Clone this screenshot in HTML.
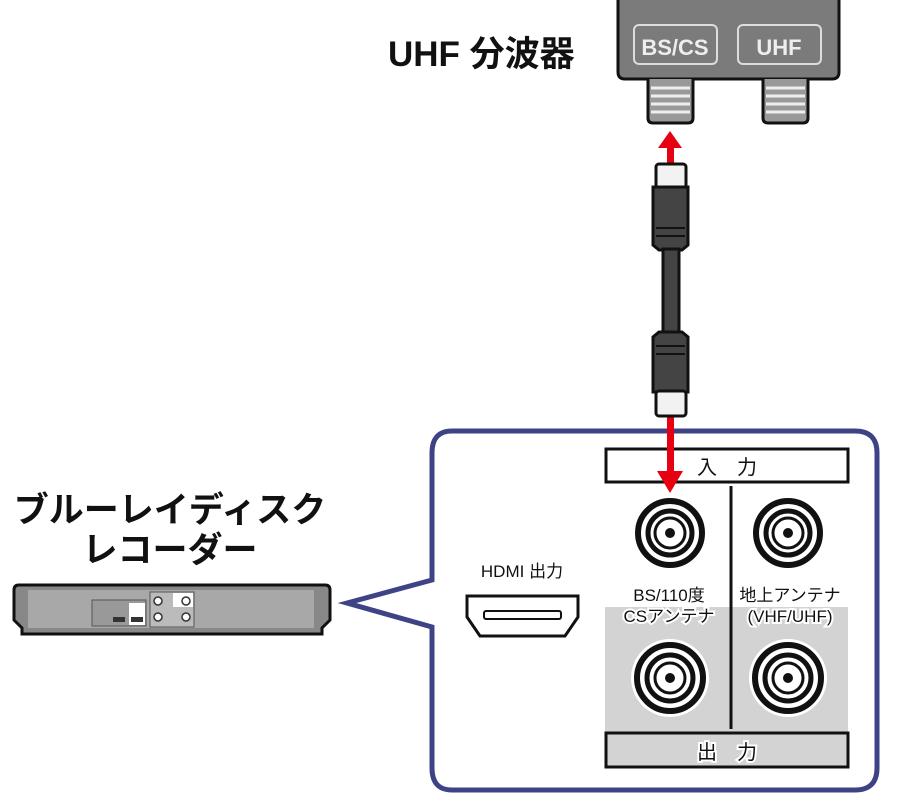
<!DOCTYPE html>
<html><head><meta charset="utf-8"><style>
html,body{margin:0;padding:0;background:#fff;width:900px;height:805px;overflow:hidden}
text{font-family:"Liberation Sans","Noto Sans CJK JP",sans-serif}
</style></head><body>
<svg width="900" height="805" viewBox="0 0 900 805" xmlns="http://www.w3.org/2000/svg">
<!-- splitter -->
<path d="M618,-5 L618,72 Q618,79 625,79 L832,79 Q839,79 839,72 L839,-5 Z" fill="#7b7b7b" stroke="#111" stroke-width="3"/>
<rect x="634" y="25" width="83" height="39" rx="5" fill="none" stroke="#ddd" stroke-width="2"/>
<rect x="738" y="25" width="83" height="39" rx="5" fill="none" stroke="#ddd" stroke-width="2"/>
<text x="675" y="55" font-size="22" font-weight="bold" fill="#eee" text-anchor="middle">BS/CS</text>
<text x="779" y="55" font-size="22" font-weight="bold" fill="#eee" text-anchor="middle">UHF</text>
<g stroke="#111" stroke-width="3">
<path d="M648,79 L648,118 Q648,123 653,123 L688,123 Q693,123 693,118 L693,79" fill="#999"/>
<path d="M763,79 L763,118 Q763,123 768,123 L803,123 Q808,123 808,118 L808,79" fill="#999"/>
</g>
<g stroke="#eee" stroke-width="3">
<line x1="651" y1="88" x2="690" y2="88"/><line x1="651" y1="96" x2="690" y2="96"/><line x1="651" y1="104" x2="690" y2="104"/><line x1="651" y1="112" x2="690" y2="112"/>
<line x1="766" y1="88" x2="805" y2="88"/><line x1="766" y1="96" x2="805" y2="96"/><line x1="766" y1="104" x2="805" y2="104"/><line x1="766" y1="112" x2="805" y2="112"/>
</g>
<text x="388" y="66" font-size="35" font-weight="bold" fill="#111">UHF 分波器</text>
<polygon points="670,131 658,148 682,148" fill="#e60012"/>
<rect x="667" y="147" width="7" height="20" fill="#e60012"/>
<!-- callout -->
<path d="M452,431 L855,431 Q877,431 877,453 L877,768 Q877,790 855,790 L452,790 Q432,790 432,768 L432,627 L347,603 L432,580 L432,453 Q432,431 452,431 Z" fill="#fff" stroke="#3e4385" stroke-width="5"/>
<rect x="605" y="607" width="243" height="128" fill="#d3d3d3"/>
<rect x="606" y="449" width="242" height="33" fill="#fff" stroke="#111" stroke-width="3"/>
<text x="727" y="474" font-size="20" text-anchor="middle" fill="#111">入　力</text>
<rect x="606" y="733" width="242" height="34" fill="#d3d3d3" stroke="#111" stroke-width="3"/>
<text x="727" y="759" font-size="20" text-anchor="middle" fill="#111" stroke="#fff" stroke-width="4" paint-order="stroke">出　力</text>
<line x1="731" y1="486" x2="731" y2="729" stroke="#111" stroke-width="3"/>
<!-- red arrow down (over callout) -->
<rect x="667" y="415" width="7" height="58" fill="#e60012"/>
<polygon points="670,493 657,471 683,471" fill="#e60012"/>
<!-- cable -->
<g stroke="#111" stroke-width="3">
<rect x="656" y="164" width="30" height="24" rx="3" fill="#f2f2f2"/>
<path d="M653,187 L688,187 L688,245 L682,250 L659,250 L653,245 Z" fill="#444"/>
<rect x="663" y="249" width="16" height="84" fill="#444"/>
<path d="M659,332 L682,332 L688,337 L688,392 L653,392 L653,337 Z" fill="#444"/>
<rect x="656" y="391" width="30" height="25" rx="3" fill="#f2f2f2"/>
</g>
<g stroke="#111" stroke-width="2"><line x1="656" y1="228" x2="685" y2="228"/><line x1="656" y1="236" x2="685" y2="236"/><line x1="656" y1="346" x2="685" y2="346"/><line x1="656" y1="354" x2="685" y2="354"/></g>
<!-- connectors -->
<g fill="none" stroke="#111">
<circle cx="670" cy="533" r="32" stroke-width="6"/><circle cx="670" cy="533" r="22" stroke-width="5"/><circle cx="670" cy="533" r="15" stroke-width="3"/>
<circle cx="788" cy="533" r="32" stroke-width="6"/><circle cx="788" cy="533" r="22" stroke-width="5"/><circle cx="788" cy="533" r="15" stroke-width="3"/>
<circle cx="670" cy="678" r="39" fill="#fff" stroke="none"/><circle cx="788" cy="678" r="39" fill="#fff" stroke="none"/>
<circle cx="670" cy="678" r="33" stroke-width="6"/><circle cx="670" cy="678" r="23" stroke-width="5"/><circle cx="670" cy="678" r="15" stroke-width="3"/>
<circle cx="788" cy="678" r="33" stroke-width="6"/><circle cx="788" cy="678" r="23" stroke-width="5"/><circle cx="788" cy="678" r="15" stroke-width="3"/>
</g>
<g fill="#111"><circle cx="670" cy="533" r="5"/><circle cx="788" cy="533" r="5"/><circle cx="670" cy="678" r="5"/><circle cx="788" cy="678" r="5"/></g>
<g font-size="17" fill="#111" text-anchor="middle">
<text x="669" y="601">BS/110度</text>
<text x="669" y="622" stroke="#fff" stroke-width="4" paint-order="stroke">CSアンテナ</text>
<text x="790" y="601">地上アンテナ</text>
<text x="790" y="622" stroke="#fff" stroke-width="4" paint-order="stroke">(VHF/UHF)</text>
<text x="522" y="577" font-size="17">HDMI 出力</text>
</g>
<path d="M467,596 L578,596 L578,617 L565,636 L480,636 L467,617 Z" fill="#fff" stroke="#111" stroke-width="3"/>
<rect x="484" y="611" width="77" height="8" rx="2" fill="#fff" stroke="#111" stroke-width="2"/>
<!-- recorder -->
<text x="170" y="522" font-size="35" font-weight="bold" fill="#111" text-anchor="middle">ブルーレイディスク</text>
<text x="170" y="562" font-size="35" font-weight="bold" fill="#111" text-anchor="middle">レコーダー</text>
<path d="M14,590 Q14,585 19,585 L325,585 Q330,585 330,590 L330,620 L322,628 L322,634 L22,634 L22,628 L14,620 Z" fill="#888" stroke="#111" stroke-width="3"/>
<rect x="28" y="590" width="286" height="38" fill="#a8a8a8"/>
<rect x="92" y="600" width="54" height="26" fill="#999" stroke="#555" stroke-width="1"/>
<rect x="129" y="603" width="16" height="22" fill="#fff"/>
<rect x="113" y="617" width="12" height="5" fill="#333"/><rect x="131" y="617" width="12" height="5" fill="#333"/>
<rect x="150" y="592" width="44" height="35" fill="#bbb" stroke="#555" stroke-width="1"/>
<rect x="173" y="593" width="20" height="14" fill="#fff"/>
<g fill="#fff" stroke="#333" stroke-width="1.5"><circle cx="158" cy="601" r="4"/><circle cx="186" cy="601" r="4"/><circle cx="158" cy="617" r="4"/><circle cx="186" cy="617" r="4"/></g>
</svg>
</body></html>
